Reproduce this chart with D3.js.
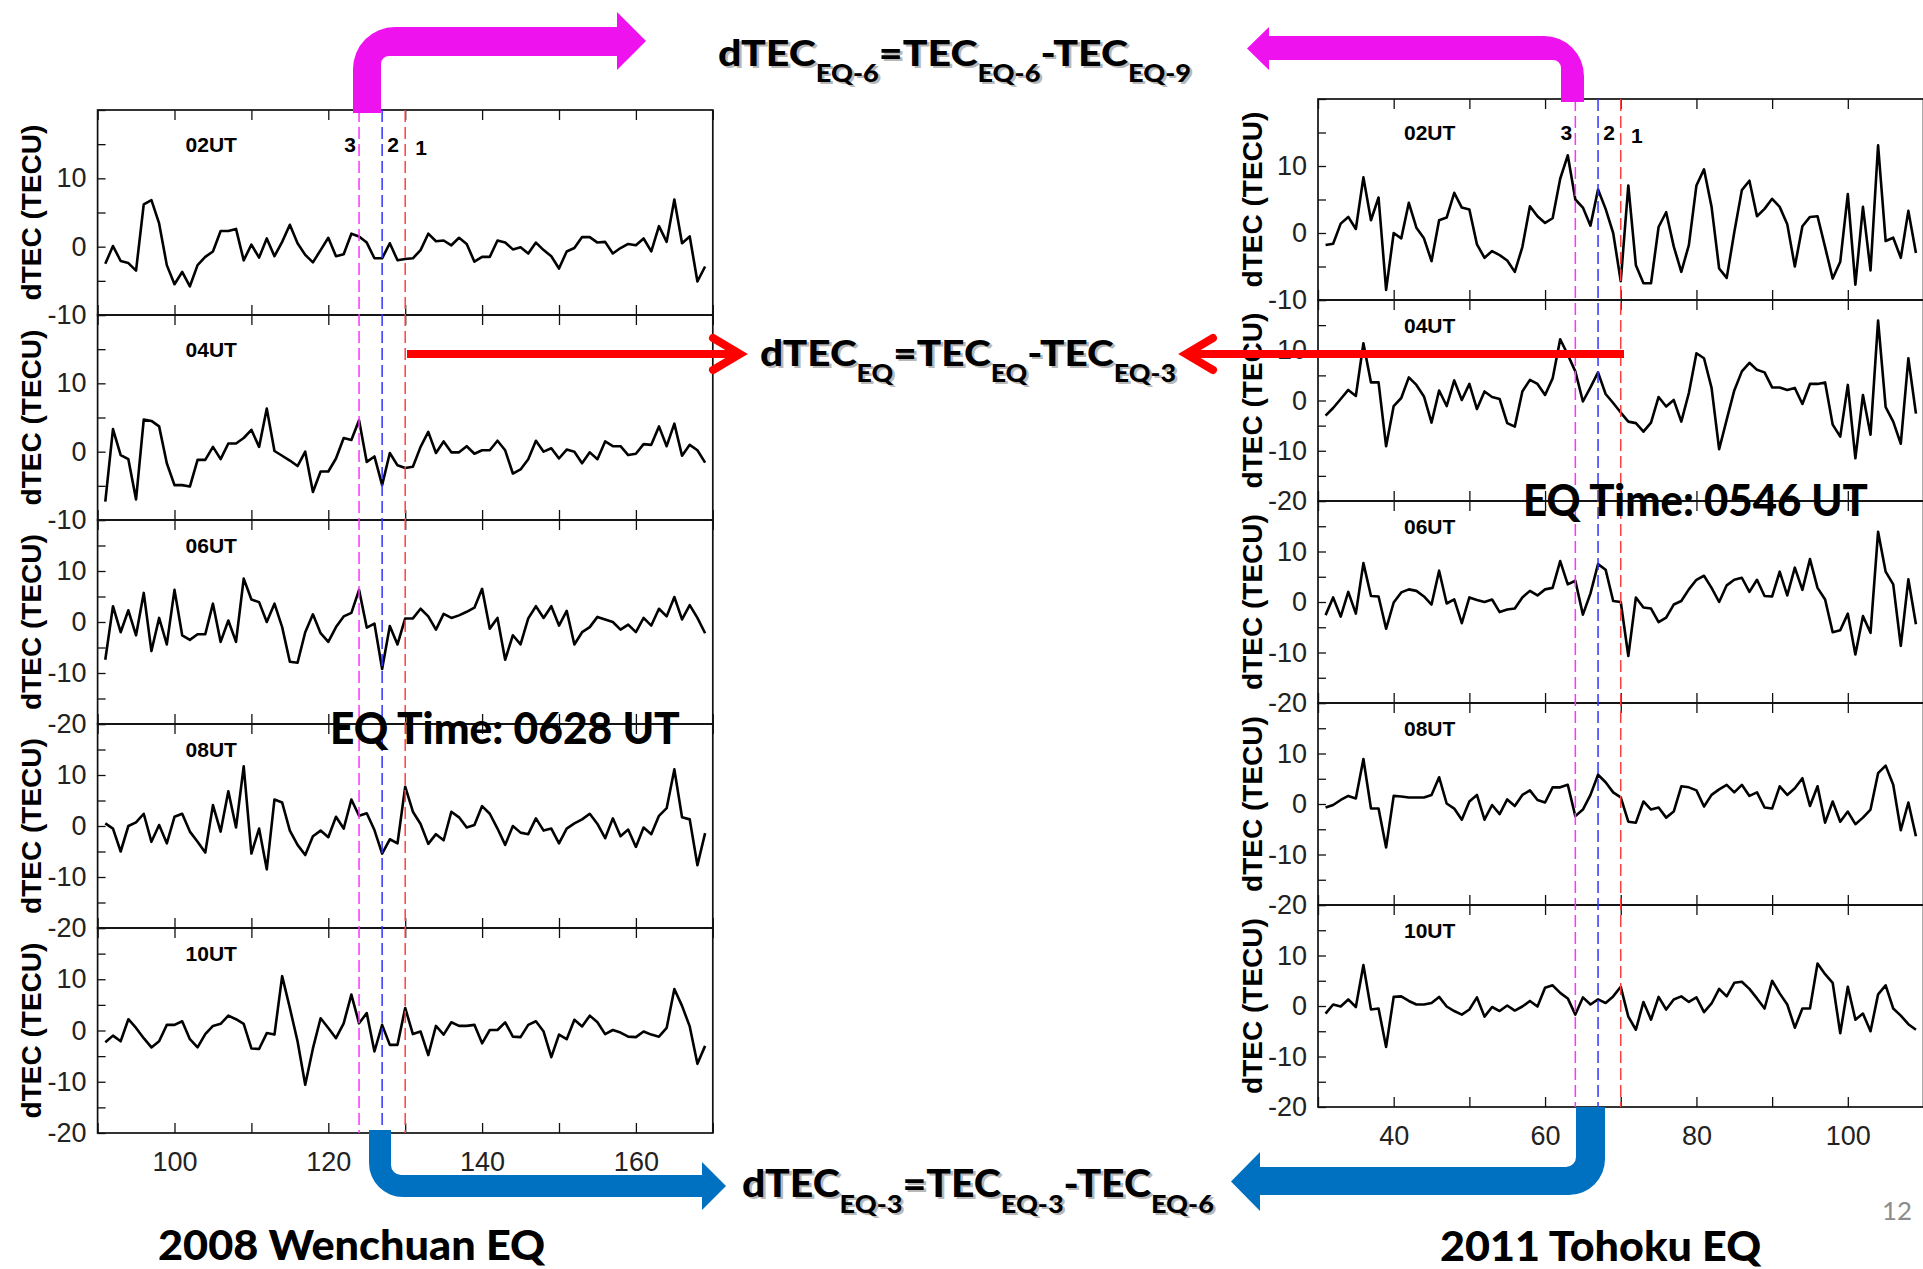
<!DOCTYPE html>
<html><head><meta charset="utf-8">
<script src="https://cdn.jsdelivr.net/npm/d3@7"></script>
<style>body{margin:0;background:#fff} svg{display:block}</style>
</head><body>
<svg id="c" width="1923" height="1269"></svg>
<script>
// ---------------- DATA ----------------
const hours = ["02UT","04UT","06UT","08UT","10UT"];
const wenchuanEpochs = [91,92,93,94,95,96,97,98,99,100,101,102,103,104,105,106,107,108,109,110,111,112,113,114,115,116,117,118,119,120,121,122,123,124,125,126,127,128,129,130,131,132,133,134,135,136,137,138,139,140,141,142,143,144,145,146,147,148,149,150,151,152,153,154,155,156,157,158,159,160,161,162,163,164,165,166,167,168,169];
const tohokuEpochs = [31,32,33,34,35,36,37,38,39,40,41,42,43,44,45,46,47,48,49,50,51,52,53,54,55,56,57,58,59,60,61,62,63,64,65,66,67,68,69,70,71,72,73,74,75,76,77,78,79,80,81,82,83,84,85,86,87,88,89,90,91,92,93,94,95,96,97,98,99,100,101,102,103,104,105,106,107,108,109];

const wenchuan02 = [-2.5,0.1,-2.1,-2.4,-3.5,6.2,6.8,3.4,-2.7,-5.5,-3.7,-5.8,-2.7,-1.5,-0.7,2.3,2.3,2.6,-2.0,0.3,-1.6,1.2,-1.4,0.7,3.2,0.5,-1.2,-2.3,-0.5,1.3,-1.4,-1.1,1.9,1.5,0.6,-1.7,-1.7,0.5,-2.0,-1.8,-1.7,-0.5,1.9,0.8,0.9,0.2,1.3,0.4,-2.2,-1.5,-1.5,0.9,0.6,-0.4,-0.1,-1.0,0.6,-0.5,-1.4,-3.2,-0.7,-0.2,1.4,1.4,0.6,0.7,-1.0,-0.2,0.4,0.2,1.2,-0.7,3.0,0.7,6.9,0.5,1.5,-5.1,-2.9];
const wenchuan04 = [-7.3,3.3,-0.5,-1.1,-7.0,4.7,4.5,3.7,-1.7,-4.9,-4.9,-5.1,-1.2,-1.2,0.7,-1.1,1.2,1.2,2.0,3.2,0.7,6.3,0.1,-0.6,-1.3,-2.1,0,-5.9,-2.9,-2.9,-1.0,2.0,1.7,4.6,-1.5,-0.7,-4.9,-0.2,-2.0,-2.4,-2.2,0.7,2.9,-0.2,1.5,-0.1,-0.1,0.8,-0.3,0.2,0.2,1.6,0.2,-3.2,-2.6,-1.1,1.6,0,0.5,-1.0,0.3,0,-1.7,-0.1,-1.1,1.5,0.8,0.8,-0.5,-0.3,1.1,1.0,3.7,0.8,4.1,-0.6,1.0,0.2,-1.6];
const wenchuan06 = [-7.4,3.1,-2.0,2.3,-2.6,5.7,-5.7,0.8,-4.4,6.3,-2.6,-3.5,-2.4,-2.4,3.6,-3.9,0.3,-3.9,8.5,4.4,3.9,0,3.6,-1.0,-7.8,-8.0,-2.0,1.5,-2.2,-3.9,-1.0,1.1,1.8,6.3,-1.1,-0.3,-9.2,-0.8,-4.4,0.7,0.7,2.6,1.1,-1.5,1.6,0.8,1.3,2.0,2.8,6.5,-1.3,0.8,-7.4,-2.6,-4.4,0.7,3.1,0.8,3.1,-0.7,2.2,-4.4,-2.0,-1.0,1.0,0.5,0,-1.5,-0.5,-2.0,0.8,-0.7,2.6,1.1,4.9,0.5,3.3,0.8,-2.2];
const wenchuan08 = [0.5,-0.5,-5.0,0,0.7,2.4,-3.1,0.2,-3.4,1.8,2.4,-1.1,-3.1,-5.2,4.1,-1.1,6.8,-0.3,11.7,-5.4,-0.5,-8.5,5.2,4.6,-0.9,-3.7,-5.7,-2.0,-0.9,-2.2,1.8,-0.5,5.2,2.0,2.5,-0.8,-5.4,-2.6,-3.4,7.7,2.8,0.4,-3.5,-1.6,-2.8,2.8,1.7,-0.3,0.2,3.9,2.4,-0.5,-3.7,0,-1.3,-1.6,1.5,-0.9,-0.5,-3.4,-0.5,0.5,1.3,2.4,0.4,-2.4,1.5,-2.0,-0.7,-4.1,-0.3,-1.6,2.0,3.5,11.1,1.7,1.3,-7.7,-1.4];
const wenchuan10 = [-2.3,-1.0,-2.1,2.2,0.5,-1.5,-3.3,-2.1,1.1,1.1,1.8,-1.7,-3.3,-0.7,0.9,1.3,2.9,2.2,1.3,-3.5,-3.6,-0.5,-0.8,10.6,4.4,-2.1,-10.6,-3.5,2.4,0.5,-1.5,1.4,7.0,1.4,3.4,-4.1,1.1,-2.8,-2.8,4.4,-0.7,-0.2,-4.8,0.9,-0.8,1.6,0.9,0.9,1.1,-2.5,0.1,0.1,1.6,-1.2,-1.3,1.1,1.8,-0.2,-5.2,-0.8,-1.7,2.1,0.8,2.9,1.6,-0.7,0.1,-0.4,-1.2,-1.3,-0.2,-0.8,-1.2,0.5,8.1,4.8,0.8,-6.5,-3.0];

const tohoku02 = [-1.8,-1.6,1.4,2.4,0.6,8.3,1.9,5.3,-8.5,0,-0.8,4.5,0.8,-0.8,-4.2,1.9,2.3,6.0,3.8,3.5,-1.7,-3.7,-2.7,-3.3,-4.1,-5.8,-2.1,4.0,2.5,1.5,2.2,8.1,11.6,5.0,3.8,1.1,6.5,3.6,0,-7.2,7.1,-4.8,-7.5,-7.5,0.9,3.1,-2.0,-5.8,-1.8,7.1,9.5,3.9,-5.3,-6.7,0.1,6.4,7.8,2.5,3.6,5.1,3.9,1.3,-5.0,1.0,2.4,2.5,-2.1,-6.8,-4.3,5.8,-7.7,3.9,-5.6,13.1,-1.2,-0.7,-3.7,3.3,-3.0];
const tohoku04 = [-3.0,-1.5,0.3,2.1,0.9,11.4,3.6,3.6,-9.1,-1.1,0.5,4.6,3.1,0.8,-4.4,2.0,-1.1,4.0,0.1,3.3,-1.7,1.8,0.7,0.3,-4.5,-5.2,1.8,4.1,3.3,1.1,4.4,12.2,9.1,5.8,-0.2,2.6,5.6,1.3,-0.5,-2.4,-4.2,-4.5,-6.2,-4.4,0.7,-1.2,0.1,-4.2,1.5,9.4,8.4,2.5,-9.7,-3.8,2.0,5.8,7.5,6.1,5.6,2.6,2.6,2.1,2.5,-0.7,3.3,3.3,3.6,-4.8,-7.2,3.1,-11.5,1.1,-6.8,15.9,-1.3,-4.2,-8.6,8.4,-2.6];
const tohoku06 = [-2.6,0.9,-2.9,2.0,-2.3,7.7,1.2,1.1,-5.3,-0.1,1.9,2.5,2.2,1.1,-0.5,6.2,-0.3,0.5,-4.2,0.9,0.4,0,0.5,-2.0,-1.5,-1.3,0.9,2.2,1.3,2.5,2.8,8.1,3.5,4.2,-2.5,1.7,7.5,6.4,0.2,0,-10.7,0.9,-1.1,-1.3,-4.0,-3.1,-0.5,0.2,2.5,4.4,5.2,2.8,0,3.3,4.4,4.8,2.0,4.4,1.2,1.1,6.0,1.3,6.8,2.4,8.5,2.8,0.5,-6.0,-5.6,-2.3,-10.4,-2.8,-6.1,13.9,6.0,3.5,-8.7,4.5,-4.4];
const tohoku08 = [-0.7,-0.2,0.8,1.6,1.1,8.9,-0.9,-0.9,-8.6,1.6,1.5,1.3,1.3,1.3,1.8,5.3,0.1,-0.9,-3.1,0.5,1.8,-3.1,-0.2,-2.0,0.9,-0.4,1.8,2.7,0.8,0.3,3.3,3.3,3.8,-2.4,-1.1,1.8,5.8,4.3,2.3,1.3,-3.5,-3.7,0.5,-1.1,-0.7,-2.7,-1.5,3.5,3.3,2.7,-0.5,1.8,2.9,3.8,2.3,3.8,1.6,2.3,-0.7,-0.9,3.5,1.8,3.1,5.1,-0.4,3.5,-3.7,0.5,-3.5,-1.5,-4.0,-2.7,-1.1,6.1,7.6,3.8,-5.2,0.3,-6.4];
const tohoku10 = [-1.5,0.3,-0.1,1.3,-0.2,8.1,-0.7,-0.5,-8.1,1.8,1.9,1.0,0.3,0.3,0.6,1.8,-0.1,-1.0,-1.7,-0.7,1.7,-2.1,-0.2,-1.0,0.1,-0.9,-0.1,1.0,-0.1,3.6,4.1,2.6,1.5,-1.7,1.7,0.3,1.3,0.6,1.9,3.8,-2.1,-4.7,0.8,-2.7,1.8,-0.7,1.3,1.9,0.8,1.7,-1.2,0.5,3.4,1.9,4.6,4.8,3.4,1.5,-0.5,5.0,2.5,0.3,-4.3,-0.5,-0.5,8.4,6.3,4.6,-5.4,3.8,-2.7,-1.5,-5.0,2.3,4.1,-0.5,-1.9,-3.6,-4.7];

const wenchuanDomainsY = [[-10,20],[-10,20],[-20,20],[-20,20],[-20,20]];
const tohokuDomainsY   = [[-10,20],[-20,20],[-20,20],[-20,20],[-20,20]];
const wenchuanDomainX = [90,170];
const tohokuDomainX = [30,110];
const wenchuanMarkers = [124,127,130];   // epochs EQ-6, EQ-3, EQ
const tohokuMarkers = [64,67,70];
const markerLabels = ["3","2","1"];
const xTickValuesW = [90,100,110,120,130,140,150,160,170];
const xTickValuesT = [30,40,50,60,70,80,90,100,110];
const yTickStep = 5;

// ---------------- DRAW ----------------
const svg = d3.select("#c");
const FONT_AX = "'Liberation Sans', Arial, sans-serif";
const FONT_BIG = "Lato, 'Open Sans', sans-serif";
const markerColors = ["#ff33ff","#3333ff","#ff4040"];

function drawPanel(cfg) {
  const g = svg.append("g");
  const x = d3.scaleLinear(cfg.domX, cfg.rangeX);
  const series = cfg.series;
  cfg.bounds.slice(0,5).forEach((top, i) => {
    const bottom = cfg.bounds[i+1];
    const dom = cfg.domY[i];
    const y = d3.scaleLinear(dom, [bottom, top]);
    const sg = g.append("g");
    const ya = d3.axisLeft(y)
      .tickValues(d3.range(dom[0], dom[1] + 0.1, yTickStep))
      .tickSizeInner(-8).tickSizeOuter(0).tickPadding(11)
      .tickFormat(v => (v % 10 === 0 && v !== dom[1]) ? String(v) : "");
    sg.append("g").attr("transform", `translate(${cfg.rangeX[0]},0)`).call(ya)
      .call(a => a.select(".domain").remove())
      .call(a => a.selectAll("text").attr("font-size", 27).attr("font-family", FONT_AX).attr("fill", "#222"))
      .call(a => a.selectAll("line").attr("stroke", "#111").attr("stroke-width", 1.3));
    const xt = d3.axisTop(x).tickValues(cfg.xTicks).tickSizeInner(-10).tickSizeOuter(0).tickFormat("");
    sg.append("g").attr("transform", `translate(0,${top})`).call(xt)
      .call(a => a.select(".domain").remove())
      .call(a => a.selectAll("line").attr("stroke", "#111").attr("stroke-width", 1.3));
    const last = i === 4;
    const xb = d3.axisBottom(x).tickValues(cfg.xTicks).tickSizeInner(-10).tickSizeOuter(0).tickPadding(19)
      .tickFormat(v => (last && v % 20 === 0) ? String(v) : "");
    sg.append("g").attr("transform", `translate(0,${bottom})`).call(xb)
      .call(a => a.select(".domain").remove())
      .call(a => a.selectAll("text").attr("font-size", 27).attr("font-family", FONT_AX).attr("fill", "#222"))
      .call(a => a.selectAll("line").attr("stroke", "#111").attr("stroke-width", 1.3));
    sg.append("rect").attr("x", cfg.rangeX[0]).attr("y", top)
      .attr("width", cfg.rangeX[1] - cfg.rangeX[0]).attr("height", bottom - top)
      .attr("fill", "none").attr("stroke", "#111").attr("stroke-width", 1.7);
    const pts = cfg.epochs.map((e, k) => [e, series[i][k]]);
    sg.append("path").datum(pts)
      .attr("d", d3.line().x(d => x(d[0])).y(d => y(d[1])))
      .attr("fill", "none").attr("stroke", "#000").attr("stroke-width", 2.6).attr("stroke-linejoin", "round");
    sg.append("text").attr("x", cfg.rangeX[0] + cfg.hourDx).attr("y", y(15)).attr("dy", "0.36em")
      .attr("font-family", FONT_AX).attr("font-weight", 700).attr("font-size", 21).text(hours[i]);
    sg.append("text").attr("transform", `translate(${cfg.ytitleX},${(top + bottom) / 2}) rotate(-90)`)
      .attr("text-anchor", "middle").attr("font-family", FONT_AX).attr("font-weight", 700)
      .attr("font-size", 28).text("dTEC (TECU)");
    if (i === 0) {
      const lblDx = [-9, 11, 16];
      const lblDy = [0, 0, 3];
      cfg.markers.forEach((m, k) => {
        sg.append("text").attr("x", x(m) + lblDx[k]).attr("y", y(15) + lblDy[k]).attr("dy", "0.36em")
          .attr("text-anchor", "middle").attr("font-family", FONT_AX).attr("font-weight", 700)
          .attr("font-size", 21).text(markerLabels[k]);
      });
    }
  });
  cfg.markers.forEach((m, k) => {
    g.append("line").attr("x1", x(m)).attr("x2", x(m))
      .attr("y1", cfg.bounds[0]).attr("y2", cfg.bounds[5])
      .attr("stroke", markerColors[k]).attr("stroke-width", 1.5).attr("stroke-dasharray", "12,5");
  });
  return x;
}

drawPanel({
  domX: wenchuanDomainX, rangeX: [97.6, 712.8], bounds: [110, 315, 520, 724, 928, 1133],
  domY: wenchuanDomainsY, series: [wenchuan02, wenchuan04, wenchuan06, wenchuan08, wenchuan10],
  epochs: wenchuanEpochs, xTicks: xTickValuesW, markers: wenchuanMarkers, hourDx: 88, ytitleX: 41
});
drawPanel({
  domX: tohokuDomainX, rangeX: [1318, 1923.5], bounds: [99, 300, 501, 703, 905, 1107],
  domY: tohokuDomainsY, series: [tohoku02, tohoku04, tohoku06, tohoku08, tohoku10],
  epochs: tohokuEpochs, xTicks: xTickValuesT, markers: tohokuMarkers, hourDx: 86, ytitleX: 1262
});

// ---------------- ANNOTATIONS ----------------
function bentArrow(o) {
  const p = d3.path();
  const sx = Math.sign(o.headTip - o.x0);
  const outerX = sx > 0 ? o.x0 : o.x1;
  const innerX = sx > 0 ? o.x1 : o.x0;
  const sy = Math.sign(o.yA - o.stemY);
  p.moveTo(outerX, o.stemY);
  p.lineTo(outerX, o.yA - sy * o.ro);
  p.arcTo(outerX, o.yA, outerX + sx * o.ro, o.yA, o.ro);
  p.lineTo(o.headBase, o.yA);
  p.lineTo(o.headBase, sy < 0 ? o.headY0 : o.headY1);
  p.lineTo(o.headTip, (o.headY0 + o.headY1) / 2);
  p.lineTo(o.headBase, sy < 0 ? o.headY1 : o.headY0);
  p.lineTo(o.headBase, o.yB);
  p.lineTo(innerX + sx * o.ri, o.yB);
  p.arcTo(innerX, o.yB, innerX, o.yB - sy * o.ri, o.ri);
  p.lineTo(innerX, o.stemY);
  p.closePath();
  svg.append("path").attr("d", p.toString()).attr("fill", o.color);
}
const MAGENTA = "#ee12ee", BLUE = "#0070c0", RED = "#ff0000";
bentArrow({x0: 353, x1: 381, stemY: 113, yA: 27, yB: 56, headBase: 617, headTip: 646, headY0: 12, headY1: 70, ro: 42, ri: 8, color: MAGENTA});
bentArrow({x0: 1561, x1: 1584, stemY: 102, yA: 36, yB: 60, headBase: 1269, headTip: 1247, headY0: 27, headY1: 70, ro: 40, ri: 8, color: MAGENTA});
bentArrow({x0: 369, x1: 391, stemY: 1130, yA: 1197, yB: 1175, headBase: 702, headTip: 726, headY0: 1162, headY1: 1210, ro: 34, ri: 10, color: BLUE});
bentArrow({x0: 1576, x1: 1605, stemY: 1107, yA: 1195, yB: 1167, headBase: 1260, headTip: 1231, headY0: 1152, headY1: 1211, ro: 36, ri: 10, color: BLUE});

function redArrow(xs, xe, y, dir) {
  svg.append("line").attr("x1", xs).attr("x2", xe - dir * 3).attr("y1", y).attr("y2", y)
    .attr("stroke", RED).attr("stroke-width", 8);
  svg.append("polyline").attr("points", `${xe - dir * 27},${y - 16} ${xe},${y} ${xe - dir * 27},${y + 16}`)
    .attr("fill", "none").attr("stroke", RED).attr("stroke-width", 8)
    .attr("stroke-linecap", "round").attr("stroke-linejoin", "miter");
}
redArrow(407, 740, 354, 1);
redArrow(1624, 1186, 354, -1);

// ---------------- TEXT ----------------
function fitX(sel, x0, width) {
  const w = sel.node().getBBox().width;
  const s = width / w;
  sel.attr("transform", `translate(${x0},0) scale(${s},1) translate(${-x0},0)`);
}
function formula(parts, x0, y0, size, width) {
  const sub = size * 0.66, shift = size * 0.42;
  [["#b8b8b8", 2.5], ["#000", 0]].forEach(([fill, off]) => {
    const t = svg.append("text").attr("x", x0 + off).attr("y", y0 + off)
      .attr("font-family", FONT_BIG).attr("font-weight", 900).attr("font-size", size).attr("fill", fill);
    let cur = 0;
    parts.forEach(([s, isSub]) => {
      const target = isSub ? shift : 0;
      t.append("tspan").attr("dy", target - cur).attr("font-size", isSub ? sub : size).text(s);
      cur = target;
    });
    fitX(t, x0 + off, width);
  });
}
formula([["dTEC",0],["EQ-6",1],["=TEC",0],["EQ-6",1],["-TEC",0],["EQ-9",1]], 718, 66, 37, 473);
formula([["dTEC",0],["EQ",1],["=TEC",0],["EQ",1],["-TEC",0],["EQ-3",1]], 760, 366, 37, 416);
formula([["dTEC",0],["EQ-3",1],["=TEC",0],["EQ-3",1],["-TEC",0],["EQ-6",1]], 742, 1197, 37, 472);

function bigText(str, x0, y0, size, width, weight, fill) {
  const t = svg.append("text").attr("x", x0).attr("y", y0).attr("font-family", FONT_BIG)
    .attr("font-weight", weight).attr("font-size", size).attr("fill", fill).text(str);
  fitX(t, x0, width);
}
bigText("EQ Time: 0628 UT", 330, 744, 43, 350, 900, "#000");
bigText("EQ Time: 0546 UT", 1523, 516, 43, 345, 900, "#000");
bigText("2008 Wenchuan EQ", 158, 1260, 41, 388, 900, "#000");
bigText("2011 Tohoku EQ", 1440, 1261, 41, 322, 900, "#000");
bigText("12", 1882, 1220, 25, 30, 400, "#8c8c8c");
</script>
</body></html>
